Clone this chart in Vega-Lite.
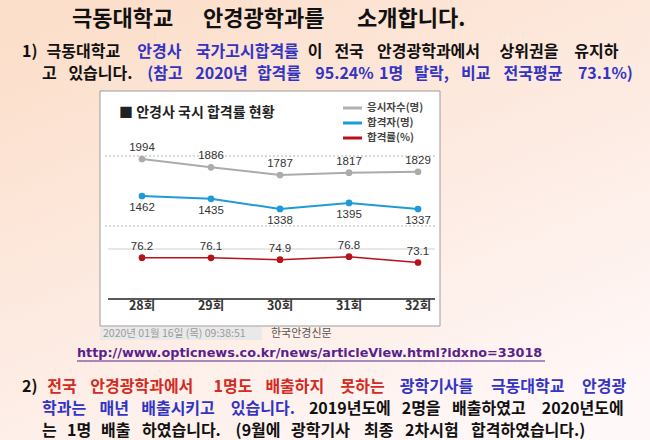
{
  "$schema": "https://vega.github.io/schema/vega-lite/v6.json",
  "width": 650,
  "height": 440,
  "autosize": {"type": "fit", "contains": "padding"},
  "padding": 0,
  "background": "#fdece2",
  "config": {"view": {"stroke": null}, "font": "Noto Sans CJK KR", "axis": {"disable": true}},
  "datasets": {
    "rounds": [
      {"round": "28회", "applicants": 1994, "passed": 1462, "rate": 76.2},
      {"round": "29회", "applicants": 1886, "passed": 1435, "rate": 76.1},
      {"round": "30회", "applicants": 1787, "passed": 1338, "rate": 74.9},
      {"round": "31회", "applicants": 1817, "passed": 1395, "rate": 76.8},
      {"round": "32회", "applicants": 1829, "passed": 1337, "rate": 73.1}
    ],
    "legend": [
      {"series": "응시자수(명)"},
      {"series": "합격자(명)"},
      {"series": "합격률(%)"}
    ],
    "slide": [
      {"w": 1, "row": 1, "text": "극동대학교", "tone": "plain"},
      {"w": 2, "row": 1, "text": "안경광학과를", "tone": "plain"},
      {"w": 3, "row": 1, "text": "소개합니다.", "tone": "plain"},
      {"w": 4, "row": 2, "text": "1)", "tone": "plain"},
      {"w": 5, "row": 2, "text": "극동대학교", "tone": "plain"},
      {"w": 6, "row": 2, "text": "안경사", "tone": "key"},
      {"w": 7, "row": 2, "text": "국가고시합격률", "tone": "key"},
      {"w": 8, "row": 2, "text": "이", "tone": "plain"},
      {"w": 9, "row": 2, "text": "전국", "tone": "plain"},
      {"w": 10, "row": 2, "text": "안경광학과에서", "tone": "plain"},
      {"w": 11, "row": 2, "text": "상위권을", "tone": "plain"},
      {"w": 12, "row": 2, "text": "유지하", "tone": "plain"},
      {"w": 13, "row": 3, "text": "고", "tone": "plain"},
      {"w": 14, "row": 3, "text": "있습니다.", "tone": "plain"},
      {"w": 15, "row": 3, "text": "(참고", "tone": "key"},
      {"w": 16, "row": 3, "text": "2020년", "tone": "key"},
      {"w": 17, "row": 3, "text": "합격률", "tone": "key"},
      {"w": 18, "row": 3, "text": "95.24%", "tone": "key"},
      {"w": 19, "row": 3, "text": "1명", "tone": "key"},
      {"w": 20, "row": 3, "text": "탈락,", "tone": "key"},
      {"w": 21, "row": 3, "text": "비교", "tone": "key"},
      {"w": 22, "row": 3, "text": "전국평균", "tone": "key"},
      {"w": 23, "row": 3, "text": "73.1%)", "tone": "key"},
      {"w": 24, "row": 5, "text": "2)", "tone": "plain"},
      {"w": 25, "row": 5, "text": "전국", "tone": "alert"},
      {"w": 26, "row": 5, "text": "안경광학과에서", "tone": "alert"},
      {"w": 27, "row": 5, "text": "1명도", "tone": "alert"},
      {"w": 28, "row": 5, "text": "배출하지", "tone": "alert"},
      {"w": 29, "row": 5, "text": "못하는", "tone": "alert"},
      {"w": 30, "row": 5, "text": "광학기사를", "tone": "key"},
      {"w": 31, "row": 5, "text": "극동대학교", "tone": "key"},
      {"w": 32, "row": 5, "text": "안경광", "tone": "key"},
      {"w": 33, "row": 6, "text": "학과는", "tone": "key"},
      {"w": 34, "row": 6, "text": "매년", "tone": "key"},
      {"w": 35, "row": 6, "text": "배출시키고", "tone": "key"},
      {"w": 36, "row": 6, "text": "있습니다.", "tone": "key"},
      {"w": 37, "row": 6, "text": "2019년도에", "tone": "plain"},
      {"w": 38, "row": 6, "text": "2명을", "tone": "plain"},
      {"w": 39, "row": 6, "text": "배출하였고", "tone": "plain"},
      {"w": 40, "row": 6, "text": "2020년도에", "tone": "plain"},
      {"w": 41, "row": 7, "text": "는", "tone": "plain"},
      {"w": 42, "row": 7, "text": "1명", "tone": "plain"},
      {"w": 43, "row": 7, "text": "배출", "tone": "plain"},
      {"w": 44, "row": 7, "text": "하였습니다.", "tone": "plain"},
      {"w": 45, "row": 7, "text": "(9월에", "tone": "plain"},
      {"w": 46, "row": 7, "text": "광학기사", "tone": "plain"},
      {"w": 47, "row": 7, "text": "최종", "tone": "plain"},
      {"w": 48, "row": 7, "text": "2차시험", "tone": "plain"},
      {"w": 49, "row": 7, "text": "합격하였습니다.)", "tone": "plain"}
    ]
  },
  "resolve": {"scale": {"x": "independent", "y": "independent", "color": "independent"}},
  "layer": [
    {
      "data": {"values": [{}]},
      "mark": {"type": "rect", "color": {"gradient": "linear", "x1": 0.2, "y1": 0, "x2": 0.8, "y2": 1, "stops": [{"offset": 0, "color": "#fcdfcb"}, {"offset": 0.55, "color": "#fdece4"}, {"offset": 1, "color": "#fff8f8"}]}},
      "encoding": {"x": {"value": 0}, "x2": {"value": "width"}, "y": {"value": 0}, "y2": {"value": "height"}}
    },
    {
      "data": {"values": [{}]},
      "mark": {"type": "rect", "fill": "#ffffff", "stroke": "#9c9c9c", "strokeWidth": 1},
      "encoding": {"x": {"value": 100}, "x2": {"value": 440}, "y": {"value": 91}, "y2": {"value": 326}}
    },
    {
      "data": {"values": [{}]},
      "mark": {"type": "rule", "color": "#b5b5b5", "strokeDash": [2, 2], "strokeWidth": 1},
      "encoding": {"x": {"value": 105}, "x2": {"value": 435}, "y": {"value": 156}}
    },
    {
      "data": {"values": [{}]},
      "mark": {"type": "rule", "color": "#b5b5b5", "strokeDash": [2, 2], "strokeWidth": 1},
      "encoding": {"x": {"value": 105}, "x2": {"value": 435}, "y": {"value": 226}}
    },
    {
      "data": {"values": [{}]},
      "mark": {"type": "rule", "color": "#d0d0d0", "strokeWidth": 1},
      "encoding": {"x": {"value": 108}, "x2": {"value": 435}, "y": {"value": 249}}
    },
    {
      "data": {"values": [{}]},
      "mark": {"type": "rule", "color": "#5a5a5a", "strokeWidth": 2},
      "encoding": {"x": {"value": 108}, "x2": {"value": 435}, "y": {"value": 299}}
    },
    {
      "data": {"name": "rounds"},
      "encoding": {
        "x": {"field": "round", "type": "ordinal", "scale": {"type": "point", "domain": ["28회", "29회", "30회", "31회", "32회"], "range": [142, 418], "padding": 0}, "axis": null},
        "y": {"field": "applicants", "type": "quantitative", "scale": {"domain": [1787, 1994], "range": [175, 159], "zero": false, "nice": false}, "axis": null}
      },
      "layer": [
        {"mark": {"type": "line", "color": "#ababab", "strokeWidth": 2}},
        {"mark": {"type": "point", "filled": true, "size": 45, "color": "#ababab", "opacity": 1}},
        {"mark": {"type": "text", "dy": -11, "fontSize": 11.5, "color": "#333333", "font": "Liberation Sans"}, "encoding": {"text": {"field": "applicants", "type": "quantitative", "format": "d"}}}
      ]
    },
    {
      "data": {"name": "rounds"},
      "encoding": {
        "x": {"field": "round", "type": "ordinal", "scale": {"type": "point", "domain": ["28회", "29회", "30회", "31회", "32회"], "range": [142, 418], "padding": 0}, "axis": null},
        "y": {"field": "passed", "type": "quantitative", "scale": {"domain": [1337, 1462], "range": [209, 196], "zero": false, "nice": false}, "axis": null}
      },
      "layer": [
        {"mark": {"type": "line", "color": "#1e9bd7", "strokeWidth": 2}},
        {"mark": {"type": "point", "filled": true, "size": 45, "color": "#1e9bd7", "opacity": 1}},
        {"mark": {"type": "text", "dy": 12, "fontSize": 11.5, "color": "#333333", "font": "Liberation Sans"}, "encoding": {"text": {"field": "passed", "type": "quantitative", "format": "d"}}}
      ]
    },
    {
      "data": {"name": "rounds"},
      "encoding": {
        "x": {"field": "round", "type": "ordinal", "scale": {"type": "point", "domain": ["28회", "29회", "30회", "31회", "32회"], "range": [142, 418], "padding": 0}, "axis": null},
        "y": {"field": "rate", "type": "quantitative", "scale": {"domain": [73.1, 76.8], "range": [262.5, 256.7], "zero": false, "nice": false}, "axis": null}
      },
      "layer": [
        {"mark": {"type": "line", "color": "#b5121b", "strokeWidth": 1.5}},
        {"mark": {"type": "point", "filled": true, "size": 45, "color": "#b5121b", "opacity": 1}},
        {"mark": {"type": "text", "dy": -11, "fontSize": 11.5, "color": "#333333", "font": "Liberation Sans"}, "encoding": {"text": {"field": "rate", "type": "quantitative", "format": ".1f"}}}
      ]
    },
    {
      "data": {"name": "rounds"},
      "mark": {"type": "text", "fontSize": 12.5, "fontWeight": "bold", "color": "#333333", "baseline": "middle"},
      "encoding": {
        "x": {"field": "round", "type": "ordinal", "scale": {"type": "point", "domain": ["28회", "29회", "30회", "31회", "32회"], "range": [142, 418], "padding": 0}, "axis": null},
        "y": {"value": 306},
        "text": {"field": "round"}
      }
    },
    {
      "data": {"values": [{"label": "■ 안경사 국시 합격률 현황"}]},
      "mark": {"type": "text", "align": "left", "baseline": "middle", "fontSize": 14, "fontWeight": "bold", "color": "#222222"},
      "encoding": {"x": {"value": 119}, "y": {"value": 113}, "text": {"field": "label"}}
    },
    {
      "data": {"name": "legend"},
      "encoding": {
        "y": {"field": "series", "type": "nominal", "scale": {"type": "point", "domain": ["응시자수(명)", "합격자(명)", "합격률(%)"], "range": [108, 138], "padding": 0}, "axis": null}
      },
      "layer": [
        {"mark": {"type": "rule", "strokeWidth": 3}, "encoding": {"x": {"value": 343}, "x2": {"value": 362}, "color": {"field": "series", "type": "nominal", "scale": {"domain": ["응시자수(명)", "합격자(명)", "합격률(%)"], "range": ["#b0b0b0", "#1e9bd7", "#b5121b"]}, "legend": null}}},
        {"mark": {"type": "text", "align": "left", "baseline": "middle", "fontSize": 10.5, "fontWeight": "bold", "color": "#444444"}, "encoding": {"x": {"value": 367}, "text": {"field": "series"}}}
      ]
    },
    {
      "data": {"values": [{}]},
      "mark": {"type": "rect", "fill": "#e9e9e9"},
      "encoding": {"x": {"value": 100}, "x2": {"value": 262}, "y": {"value": 327}, "y2": {"value": 340}}
    },
    {
      "data": {"values": [{"stamp": "2020년 01월 16일 (목) 09:38:51", "source": "한국안경신문"}]},
      "layer": [
        {"mark": {"type": "text", "align": "left", "baseline": "middle", "fontSize": 10.5, "color": "#9a9a9a"}, "encoding": {"x": {"value": 103}, "y": {"value": 333.5}, "text": {"field": "stamp"}}},
        {"mark": {"type": "text", "align": "left", "baseline": "middle", "fontSize": 11, "color": "#555555"}, "encoding": {"x": {"value": 271}, "y": {"value": 333.5}, "text": {"field": "source"}}}
      ]
    },
    {
      "data": {"values": [{"url": "http://www.opticnews.co.kr/news/articleView.html?idxno=33018"}]},
      "layer": [
        {"mark": {"type": "text", "align": "left", "baseline": "middle", "fontSize": 12.8, "fontWeight": "bold", "font": "DejaVu Sans", "color": "#5a1f8c"}, "encoding": {"x": {"value": 77}, "y": {"value": 353}, "text": {"field": "url"}}},
        {"mark": {"type": "rule", "color": "#5a1f8c", "strokeWidth": 1}, "encoding": {"x": {"value": 77}, "x2": {"value": 545}, "y": {"value": 361}}}
      ]
    },
    {
      "data": {"name": "slide"},
      "encoding": {
        "x": {"field": "w", "type": "quantitative", "axis": null, "scale": {"zero": false, "nice": false,
          "domain": [1, 2, 3, 4, 5, 6, 7, 8, 9, 10, 11, 12, 13, 14, 15, 16, 17, 18, 19, 20, 21, 22, 23, 24, 25, 26, 27, 28, 29, 30, 31, 32, 33, 34, 35, 36, 37, 38, 39, 40, 41, 42, 43, 44, 45, 46, 47, 48, 49],
          "range": [72, 203, 357, 22, 46.6, 137.2, 195.8, 307.8, 334.4, 377, 499.6, 574.2, 42, 68.4, 147.3, 195.3, 256.9, 315.3, 379, 414.2, 461.1, 503.5, 577.9, 22, 47.2, 90.3, 213.5, 265.4, 340.6, 399.7, 490.9, 582, 42, 99.6, 141.2, 230.8, 308.9, 401.7, 452.1, 541.7, 42, 67.1, 101, 142, 235.6, 291, 364.1, 405.1, 471]}},
        "y": {"field": "row", "type": "quantitative", "axis": null, "scale": {"zero": false, "nice": false, "domain": [1, 2, 3, 5, 6, 7], "range": [19, 52, 74, 387, 409, 431]}},
        "text": {"field": "text"},
        "color": {"field": "tone", "type": "nominal", "legend": null, "scale": {"domain": ["plain", "key", "alert"], "range": ["#111111", "#3434c4", "#d42a1f"]}}
      },
      "layer": [
        {"transform": [{"filter": "datum.row == 1"}], "mark": {"type": "text", "align": "left", "baseline": "middle", "fontSize": 22, "fontWeight": "bold"}},
        {"transform": [{"filter": "datum.row > 1"}], "mark": {"type": "text", "align": "left", "baseline": "middle", "fontSize": 16, "fontWeight": "bold"}}
      ]
    }
  ]
}
